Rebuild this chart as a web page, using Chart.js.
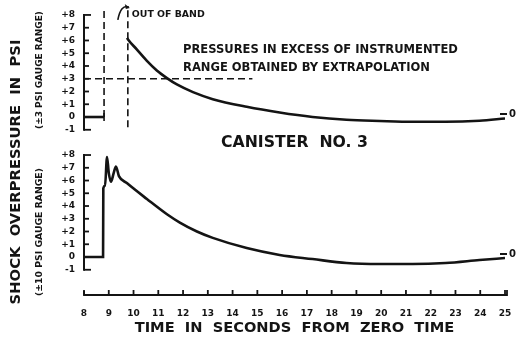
<!DOCTYPE html>
<html><head><meta charset="utf-8">
<script src="https://cdn.jsdelivr.net/npm/chart.js@4"></script>
<style>html,body{margin:0;padding:0;background:#fff}#wrap{width:516px;height:351px}</style>
</head><body><div id="wrap"><canvas id="c" width="516" height="351"></canvas></div>
<script>
// ---- data ----
const timeTicks = [8,9,10,11,12,13,14,15,16,17,18,19,20,21,22,23,24,25];
const gaugeTicks = [-1,0,1,2,3,4,5,6,7,8];

// upper record (±3 psi gauge) – baseline before out-of-band, then extrapolated decay
const topBaseTime = [8, 8.81];
const topBasePressure = [0, 0];
const topTime = [9.74, 9.77, 10.13, 10.54, 10.94, 11.35, 11.75, 12.4, 13.2, 14.57, 15.9, 17.23, 18.6, 19.94, 21.27, 22.6, 23.97, 25.0];
const topPressure = [6.2, 6.1, 5.3, 4.4, 3.65, 3.05, 2.55, 1.95, 1.4, 0.8, 0.35, 0.0, -0.22, -0.31, -0.37, -0.37, -0.29, -0.12];

// lower record (±10 psi gauge)
const bottomTime = [8, 8.77, 8.78, 8.85, 8.93, 9.0, 9.09, 9.2, 9.29, 9.41, 9.73, 10.54, 11.35, 11.87, 12.56, 13.2, 14.57, 15.9, 17.23, 18.6, 19.94, 21.27, 22.6, 23.97, 25.0];
const bottomPressure = [0, 0, 5.4, 5.6, 7.85, 6.6, 5.9, 6.6, 7.1, 6.35, 5.8, 4.55, 3.35, 2.7, 2.0, 1.5, 0.7, 0.16, -0.16, -0.47, -0.55, -0.55, -0.47, -0.24, -0.08];

// reference marks on upper record
const outOfBandTime = 8.81;
const extrapolationTime = 9.77;
const gaugeLimit = 3;
const gaugeLimitEnd = 14.8;
const markTop = 8.55;
const extrapBottom = -0.8;

const INK = '#141414';
const FAM = '"DejaVu Sans", "Liberation Sans", sans-serif';

function pts(xs, ys){ return xs.map((x,i)=>({x:x,y:ys[i]})); }
function fmt(v){ return v>0 ? '+'+v : String(v); }

function fitText(ctx, text, cx, cy, width, opts){
  opts = opts || {};
  ctx.save();
  ctx.font = 'bold 100px ' + FAM;
  const w = ctx.measureText(text).width;
  const size = 100*width/w;
  ctx.font = 'bold ' + size.toFixed(2) + 'px ' + FAM;
  ctx.fillStyle = INK;
  ctx.textBaseline = 'middle';
  ctx.textAlign = opts.align || 'center';
  ctx.translate(cx, cy);
  if (opts.rot) ctx.rotate(opts.rot);
  ctx.fillText(text, 0, 0);
  ctx.restore();
  return size;
}

const decor = {
  id: 'decor',
  afterDraw(chart){
    const ctx = chart.ctx, ca = chart.chartArea;
    const xs = chart.scales.x, yT = chart.scales.yTop, yB = chart.scales.yBot;
    ctx.save();
    ctx.strokeStyle = INK; ctx.fillStyle = INK; ctx.lineCap = 'butt';
    // y axes with inward ticks and bracket ends
    [yT, yB].forEach(s => {
      const x0 = ca.left;
      const yHi = s.getPixelForValue(gaugeTicks[gaugeTicks.length-1]);
      const yLo = s.getPixelForValue(gaugeTicks[0]);
      ctx.lineWidth = 2;
      ctx.beginPath(); ctx.moveTo(x0, yHi-1); ctx.lineTo(x0, yLo+1); ctx.stroke();
      gaugeTicks.forEach((v,i) => {
        const y = s.getPixelForValue(v);
        const len = (i===0 || i===gaugeTicks.length-1) ? 7 : 5;
        ctx.lineWidth = 1.8;
        ctx.beginPath(); ctx.moveTo(x0, y); ctx.lineTo(x0+len, y); ctx.stroke();
      });
      // zero reference mark at right end
      const yz = s.getPixelForValue(0) - 3;
      ctx.lineWidth = 2;
      ctx.beginPath(); ctx.moveTo(ca.right-5, yz); ctx.lineTo(ca.right+2, yz); ctx.stroke();
      ctx.font = 'bold 10px ' + FAM; ctx.textAlign = 'left'; ctx.textBaseline = 'middle';
      ctx.fillText('0', ca.right+4, yz);
    });
    // x axis with upward ticks
    const yb = ca.bottom;
    ctx.lineWidth = 1.8;
    ctx.beginPath();
    ctx.moveTo(xs.getPixelForValue(timeTicks[0]), yb-4);
    ctx.lineTo(xs.getPixelForValue(timeTicks[0]), yb);
    ctx.lineTo(xs.getPixelForValue(timeTicks[timeTicks.length-1])+2, yb);
    ctx.lineTo(xs.getPixelForValue(timeTicks[timeTicks.length-1])+2, yb-5);
    ctx.stroke();
    timeTicks.forEach(t => {
      const x = xs.getPixelForValue(t);
      ctx.beginPath(); ctx.moveTo(x, yb); ctx.lineTo(x, yb-5); ctx.stroke();
    });
    // small end bar on the upper baseline
    const xb = xs.getPixelForValue(topBaseTime[1]);
    const y0 = yT.getPixelForValue(0);
    ctx.lineWidth = 1.6;
    ctx.beginPath(); ctx.moveTo(xb, y0-4); ctx.lineTo(xb, y0+4); ctx.stroke();
    // curved arrow to OUT OF BAND
    const xa = xs.getPixelForValue(extrapolationTime);
    const ya = yT.getPixelForValue(markTop);
    ctx.lineWidth = 1.6;
    ctx.beginPath(); ctx.moveTo(xa-10, ya+12); ctx.quadraticCurveTo(xa-7, ya-4, xa+1, ya-1); ctx.stroke();
    ctx.beginPath(); ctx.moveTo(xa+2, ya); ctx.lineTo(xa-3, ya-4); ctx.lineTo(xa-2, ya+1); ctx.closePath(); ctx.fill();
    ctx.restore();

    // texts
    fitText(ctx, 'OUT OF BAND', xa+4, ya+7, 73, {align:'left'});
    const s1 = fitText(ctx, 'PRESSURES IN EXCESS OF INSTRUMENTED', 183, 50, 275, {align:'left'});
    ctx.save(); ctx.font = 'bold '+s1.toFixed(2)+'px '+FAM; ctx.fillStyle = INK; ctx.textBaseline='middle'; ctx.textAlign='left';
    ctx.fillText('RANGE OBTAINED BY EXTRAPOLATION', 183, 68); ctx.restore();
    const cx = (ca.left+ca.right)/2;
    fitText(ctx, 'CANISTER  NO. 3', cx, (yT.bottom+yB.top)/2 + 2, 147);
    fitText(ctx, 'TIME  IN  SECONDS  FROM  ZERO  TIME', cx, 328, 320);
    fitText(ctx, 'SHOCK  OVERPRESSURE  IN  PSI', 16, 172, 265, {rot:-Math.PI/2});
    fitText(ctx, '(±3 PSI GAUGE RANGE)', 40, 70, 118, {rot:-Math.PI/2});
    fitText(ctx, '(±10 PSI GAUGE RANGE)', 40, 232, 128, {rot:-Math.PI/2});
  }
};

const lineBase = {borderColor: INK, pointRadius: 0, fill: false};
const yTickCommon = {
  stepSize: 1, includeBounds: false, autoSkip: false, color: INK, padding: 9,
  font: {family: FAM, size: 9, weight: 'bold'},
  callback: v => fmt(v)
};
const keepGauge = s => { s.ticks = s.ticks.filter(t => t.value >= gaugeTicks[0] && t.value <= gaugeTicks[gaugeTicks.length-1]); };
const fitY = s => { s.width = 84; s.paddingTop = 0; s.paddingBottom = 0; };

new Chart(document.getElementById('c'), {
  type: 'line',
  data: {
    datasets: [
      Object.assign({}, lineBase, {data: pts(topTime, topPressure), yAxisID: 'yTop', borderWidth: 2.6, cubicInterpolationMode: 'monotone'}),
      Object.assign({}, lineBase, {data: pts(topBaseTime, topBasePressure), yAxisID: 'yTop', borderWidth: 2.6}),
      Object.assign({}, lineBase, {data: pts(bottomTime, bottomPressure), yAxisID: 'yBot', borderWidth: 2.6, cubicInterpolationMode: 'monotone'}),
      Object.assign({}, lineBase, {data: [{x:outOfBandTime,y:0},{x:outOfBandTime,y:markTop}], yAxisID: 'yTop', borderWidth: 1.6, borderDash: [7,4]}),
      Object.assign({}, lineBase, {data: [{x:extrapolationTime,y:extrapBottom},{x:extrapolationTime,y:markTop}], yAxisID: 'yTop', borderWidth: 1.6, borderDash: [7,4]}),
      Object.assign({}, lineBase, {data: [{x:timeTicks[0],y:gaugeLimit},{x:gaugeLimitEnd,y:gaugeLimit}], yAxisID: 'yTop', borderWidth: 1.6, borderDash: [7,4]})
    ]
  },
  options: {
    responsive: false, animation: false, devicePixelRatio: 1,
    layout: {padding: {top: 5, right: 11, left: 0, bottom: 0}},
    plugins: {legend: {display: false}, tooltip: {enabled: false}},
    scales: {
      x: {
        type: 'linear', position: 'bottom', min: timeTicks[0], max: timeTicks[timeTicks.length-1],
        grid: {display: false, drawTicks: false}, border: {display: false},
        ticks: {stepSize: 1, autoSkip: false, maxRotation: 0, color: INK, padding: 13, font: {family: FAM, size: 9, weight: 'bold'}},
        afterFit: s => { s.height = 56; s.paddingLeft = 0; s.paddingRight = 0; }
      },
      yBot: {
        type: 'linear', position: 'left', stack: 'panels', stackWeight: 154, min: -2.98, max: 9.10,
        grid: {display: false, drawTicks: false}, border: {display: false},
        ticks: yTickCommon, afterBuildTicks: keepGauge, afterFit: fitY
      },
      yTop: {
        type: 'linear', position: 'left', stack: 'panels', stackWeight: 136, min: -1.88, max: 8.78,
        grid: {display: false, drawTicks: false}, border: {display: false},
        ticks: yTickCommon, afterBuildTicks: keepGauge, afterFit: fitY
      }
    }
  },
  plugins: [decor]
});
</script>
</body></html>
